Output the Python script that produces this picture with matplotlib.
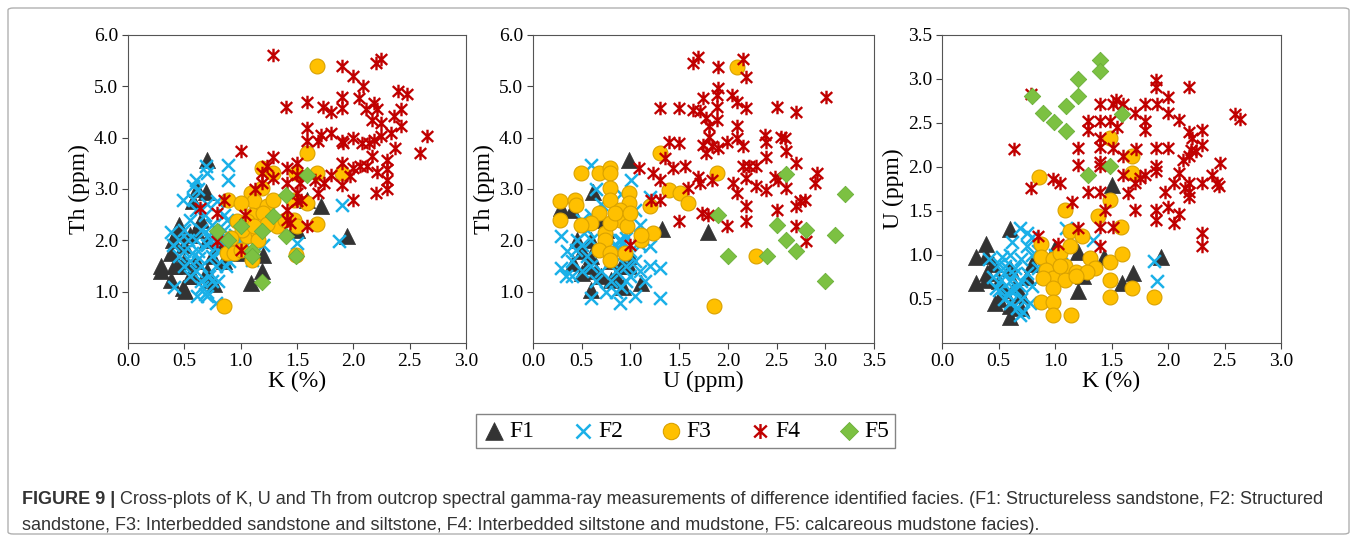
import numpy as np
import matplotlib
matplotlib.use("Agg")
import matplotlib.pyplot as plt
from matplotlib.path import Path
from matplotlib.patches import FancyBboxPatch
from matplotlib.text import Annotation

# ── data (x, y pairs) ─────────────────────────────────────────────────────────
# panel a: K (%) vs Th (ppm)
f1_k_th = [(0.70, 3.57), (0.61, 2.99), (0.69, 2.95), (0.58, 2.76), (0.29, 1.49), (0.29, 1.40),
           (0.38, 1.75), (0.41, 1.49), (0.49, 1.07), (0.51, 1.01), (0.38, 1.23), (0.43, 2.14),
           (0.58, 1.30), (0.73, 1.23), (0.76, 1.14), (1.20, 1.72), (1.19, 1.40), (1.09, 1.17),
           (1.71, 2.66), (1.94, 2.08), (1.50, 2.21), (1.47, 2.24), (1.59, 2.79), (1.00, 1.75),
           (0.40, 2.00), (0.45, 2.30), (0.50, 1.90), (0.55, 2.10), (0.50, 1.60), (0.60, 1.60),
           (0.65, 2.40), (0.70, 2.00), (0.75, 1.70), (0.80, 1.90), (0.45, 1.50), (0.55, 1.30),
           (0.60, 2.20), (0.70, 1.40), (0.85, 1.60), (0.90, 1.80)]
f2_k_th = [(0.89, 3.47), (0.89, 3.18), (0.70, 3.31), (0.69, 3.44), (0.60, 3.18), (0.58, 3.05),
           (0.49, 2.79), (0.79, 2.76), (1.90, 2.69), (1.87, 1.98), (1.50, 1.95), (1.10, 1.62),
           (0.38, 2.17), (0.41, 1.10), (0.61, 0.91), (0.70, 0.91), (0.78, 0.78),
           (0.45, 2.00), (0.50, 2.20), (0.50, 1.80), (0.55, 2.40), (0.55, 1.60), (0.60, 2.60),
           (0.60, 2.00), (0.60, 1.40), (0.62, 1.80), (0.65, 2.20), (0.65, 1.50), (0.65, 1.20),
           (0.68, 2.50), (0.70, 1.90), (0.70, 1.00), (0.72, 1.30), (0.72, 2.10), (0.75, 1.70),
           (0.75, 2.30), (0.78, 1.50), (0.80, 2.00), (0.80, 1.20), (0.82, 1.80), (0.85, 2.20),
           (0.90, 1.60), (0.55, 1.30), (0.50, 1.50), (0.45, 1.70), (0.40, 1.90), (0.58, 2.80),
           (0.62, 3.00), (0.66, 1.10), (0.70, 2.70), (0.75, 1.20), (0.68, 0.95), (0.53, 2.00),
           (0.57, 1.75), (0.63, 1.65), (0.73, 2.00), (0.77, 1.85), (0.87, 1.50), (0.92, 1.90),
           (0.95, 2.10), (1.00, 2.00), (1.05, 1.90), (0.85, 2.50), (0.88, 2.40), (1.20, 1.90),
           (1.15, 2.10)]
f3_k_th = [(1.68, 5.39), (1.59, 3.70), (1.68, 3.31), (1.90, 3.31), (1.49, 3.31), (1.19, 3.41),
           (1.29, 3.31), (1.19, 3.02), (1.09, 2.92), (1.12, 2.76), (0.89, 2.79), (1.00, 2.73),
           (1.23, 2.66), (1.29, 2.79), (1.10, 2.50), (0.97, 2.37), (1.06, 2.37), (1.20, 2.53),
           (1.32, 2.27), (1.39, 2.40), (1.47, 2.40), (1.50, 2.27), (1.59, 2.73), (1.47, 2.79),
           (1.68, 2.31), (1.06, 2.08), (1.15, 2.14), (1.01, 2.21), (1.15, 2.00), (0.91, 2.04),
           (0.88, 1.75), (0.94, 1.75), (1.10, 1.62), (1.00, 1.82), (1.49, 1.72), (0.85, 0.73),
           (1.23, 2.31), (1.12, 2.27)]
f4_k_th = [(1.29, 5.60), (1.90, 5.40), (2.20, 5.45), (2.25, 5.53), (2.00, 5.20), (2.09, 5.00),
           (2.40, 4.90), (2.48, 4.85), (1.40, 4.60), (1.59, 4.70), (1.73, 4.60), (1.80, 4.50),
           (1.90, 4.80), (1.90, 4.58), (2.05, 4.77), (2.11, 4.55), (2.18, 4.68), (2.21, 4.55),
           (2.42, 4.55), (2.42, 4.22), (2.36, 4.42), (1.59, 4.19), (1.59, 3.93), (1.69, 3.93),
           (1.71, 4.06), (1.80, 4.09), (1.90, 3.93), (1.91, 3.90), (2.00, 4.00), (2.08, 3.90),
           (2.14, 3.90), (2.18, 3.96), (2.25, 4.03), (2.17, 4.35), (2.25, 4.29), (2.33, 4.09),
           (2.37, 3.80), (2.59, 3.70), (2.65, 4.03), (1.90, 3.50), (2.00, 3.41), (2.06, 3.44),
           (2.12, 3.44), (2.17, 3.64), (2.21, 3.34), (2.30, 3.57), (2.30, 3.38), (2.30, 3.18),
           (2.30, 2.99), (2.20, 2.92), (2.00, 2.79), (1.97, 3.25), (1.90, 3.08), (1.80, 3.28),
           (1.74, 3.12), (1.29, 3.62), (1.00, 3.73), (1.19, 3.31), (1.19, 3.12), (1.29, 3.21),
           (1.41, 3.41), (1.41, 3.12), (1.50, 3.51), (1.50, 3.28), (1.53, 3.12), (1.50, 2.92),
           (1.50, 2.76), (1.54, 2.79), (1.41, 2.60), (1.41, 2.40), (1.44, 2.34), (1.59, 2.27),
           (1.69, 2.92), (1.66, 3.18), (1.13, 2.99), (1.04, 2.50), (0.85, 2.79), (0.64, 2.63),
           (0.79, 2.53), (0.79, 1.98), (1.00, 1.82), (1.23, 3.44)]
f5_k_th = [(1.59, 3.28), (1.40, 2.89), (1.29, 2.47), (1.00, 2.27), (1.19, 2.18), (0.79, 2.19),
           (0.89, 2.01), (1.40, 2.09), (1.10, 1.79), (1.10, 1.69), (1.49, 1.69), (1.19, 1.18)]

# panel b: U (ppm) vs Th (ppm)
f1_u_th = [(0.99, 3.57), (0.29, 2.63), (0.62, 2.95), (1.32, 2.22), (1.80, 2.17), (1.11, 1.17),
           (0.60, 1.04), (0.50, 1.36), (0.41, 1.56), (0.80, 1.23), (0.92, 1.10), (0.99, 1.49),
           (0.50, 1.80), (0.55, 1.50), (0.60, 2.00), (0.65, 1.40), (0.70, 1.30), (0.75, 2.20),
           (0.80, 1.60), (0.85, 1.30), (0.90, 1.50), (1.00, 1.70), (0.45, 2.00), (0.60, 1.70),
           (0.70, 2.40), (0.95, 2.60), (0.40, 2.60)]
f2_u_th = [(0.60, 3.47), (0.29, 1.47), (0.34, 1.31), (0.29, 2.08), (0.60, 0.88), (0.89, 0.78),
           (1.05, 0.91), (1.30, 0.88), (1.30, 1.47), (1.20, 1.50), (1.20, 1.88), (1.20, 2.85),
           (1.01, 3.18), (0.44, 1.82),
           (0.40, 1.60), (0.50, 1.90), (0.50, 1.40), (0.55, 1.70), (0.60, 2.00), (0.60, 1.50),
           (0.65, 1.20), (0.70, 1.80), (0.70, 1.40), (0.75, 2.10), (0.80, 1.60), (0.80, 1.20),
           (0.85, 1.90), (0.85, 1.40), (0.90, 2.00), (0.90, 1.70), (0.90, 1.10), (0.95, 1.50),
           (1.00, 1.80), (1.00, 1.30), (1.05, 1.60), (1.10, 1.40), (1.10, 1.90), (1.15, 1.20),
           (0.60, 2.50), (0.50, 2.40), (0.70, 2.70), (0.65, 3.00), (0.55, 2.20), (0.45, 2.00),
           (0.75, 1.00), (0.85, 1.00), (0.95, 1.20), (1.10, 2.30), (1.05, 2.60), (0.90, 2.90),
           (0.88, 2.00), (0.92, 1.95), (0.86, 1.85), (0.95, 2.05), (0.40, 1.30), (0.35, 1.80)]
f3_u_th = [(2.09, 5.38), (1.30, 3.70), (1.89, 3.31), (1.40, 2.98), (1.51, 2.92), (1.59, 2.72),
           (1.20, 2.66), (1.23, 2.14), (1.11, 2.01), (1.11, 2.11), (2.29, 1.70), (1.86, 0.73),
           (0.28, 2.76), (0.28, 2.40), (0.43, 2.79), (0.44, 2.69), (0.49, 3.31), (0.68, 3.31),
           (0.79, 3.41), (0.79, 3.31), (0.79, 3.02), (0.79, 2.79), (0.99, 2.92), (0.99, 2.72),
           (0.89, 2.59), (0.68, 2.53), (0.89, 2.40), (0.96, 2.27), (0.60, 2.33), (0.49, 2.30),
           (0.74, 2.14), (0.74, 2.01), (0.79, 2.33), (0.68, 1.82), (0.79, 1.75), (0.79, 1.62),
           (0.94, 1.75), (0.84, 2.53), (1.00, 2.53)]
f4_u_th = [(1.69, 5.58), (1.64, 5.45), (1.90, 5.38), (2.15, 5.53), (2.19, 5.19), (1.90, 4.96),
           (1.89, 4.83), (2.04, 4.83), (2.09, 4.70), (2.19, 4.57), (1.74, 4.78), (1.30, 4.57),
           (1.50, 4.57), (1.64, 4.54), (1.71, 4.51), (1.78, 4.38), (1.81, 4.22), (1.89, 4.60),
           (1.89, 4.35), (1.81, 4.02), (1.74, 3.86), (1.84, 3.83), (1.78, 3.70), (1.90, 3.80),
           (1.99, 3.92), (2.09, 4.22), (2.09, 4.00), (2.38, 4.05), (2.39, 3.92), (2.55, 4.02),
           (2.59, 3.99), (2.50, 4.60), (2.70, 4.50), (3.01, 4.80), (1.40, 3.92), (1.50, 3.89),
           (1.09, 3.41), (1.35, 3.61), (1.44, 3.41), (1.56, 3.44), (1.23, 3.31), (1.30, 3.18),
           (1.21, 2.79), (1.30, 2.79), (1.59, 3.02), (1.69, 3.24), (1.71, 3.11), (1.84, 3.18),
           (1.50, 2.37), (1.73, 2.53), (1.80, 2.50), (1.99, 2.27), (2.05, 3.11), (2.09, 2.92),
           (2.19, 2.66), (2.19, 2.37), (2.16, 3.44), (2.22, 3.44), (2.19, 3.21), (2.29, 3.05),
           (2.39, 2.98), (2.39, 3.63), (2.48, 3.24), (2.51, 3.18), (2.50, 2.59), (2.60, 3.02),
           (2.60, 3.73), (2.70, 3.50), (2.70, 2.66), (2.74, 2.76), (2.79, 2.79), (2.70, 2.27),
           (2.80, 1.98), (2.91, 3.31), (2.89, 3.11), (1.00, 1.91), (2.29, 3.44), (2.16, 3.83)]
f5_u_th = [(1.90, 2.50), (2.00, 1.70), (2.40, 1.70), (2.50, 2.30), (2.60, 2.00), (2.60, 3.30),
           (2.70, 1.80), (2.80, 2.20), (3.10, 2.10), (3.20, 2.90), (3.00, 1.20)]

# panel c: K (%) vs U (ppm)
f1_k_u = [(0.60, 1.29), (0.39, 1.12), (0.30, 0.98), (0.39, 0.99), (0.30, 0.68), (0.39, 0.72),
          (0.47, 0.45), (0.60, 0.30), (0.60, 0.42), (1.50, 1.80), (1.00, 1.08), (1.20, 1.03),
          (1.43, 0.98), (1.69, 0.79), (1.59, 0.68), (1.20, 0.59), (1.94, 0.98), (1.25, 0.76),
          (0.45, 0.90), (0.50, 0.70), (0.55, 0.60), (0.60, 0.85), (0.65, 0.65), (0.70, 0.55),
          (0.75, 0.75), (0.80, 0.90), (0.40, 0.80), (0.50, 0.50), (0.70, 0.40)]
f2_k_u = [(0.69, 1.31), (1.10, 1.31), (1.34, 1.17), (1.88, 0.93), (1.90, 0.70), (0.69, 0.32),
          (0.45, 0.75), (0.50, 0.90), (0.50, 0.60), (0.55, 0.80), (0.55, 0.50), (0.60, 1.00),
          (0.60, 0.70), (0.60, 0.45), (0.65, 0.85), (0.65, 0.60), (0.70, 0.95), (0.70, 0.70),
          (0.70, 0.50), (0.75, 0.80), (0.75, 1.10), (0.80, 0.65), (0.80, 1.00), (0.85, 0.85),
          (0.90, 0.75), (0.85, 1.05), (0.62, 1.15), (0.58, 0.55), (0.52, 0.72), (0.48, 0.62),
          (0.66, 0.40), (0.72, 0.35), (0.78, 0.45), (0.80, 1.20), (0.75, 1.25), (0.90, 0.95),
          (0.95, 0.80), (1.00, 1.00), (1.05, 0.90), (0.42, 0.95), (0.53, 0.98), (0.64, 0.78),
          (0.68, 0.66), (0.56, 0.88), (0.60, 0.60)]
f3_k_u = [(0.86, 1.89), (1.09, 1.51), (1.49, 2.33), (1.68, 2.12), (1.68, 1.93), (1.49, 1.63),
          (1.38, 1.44), (1.58, 1.32), (1.13, 1.27), (1.24, 1.22), (0.88, 1.12), (0.88, 0.98),
          (0.98, 0.95), (1.04, 1.02), (1.13, 1.10), (1.09, 0.87), (0.92, 0.83), (1.19, 0.81),
          (1.31, 0.96), (1.35, 0.85), (1.28, 0.81), (0.98, 0.74), (1.09, 0.72), (1.19, 0.76),
          (0.89, 0.74), (0.98, 0.62), (1.49, 0.92), (1.59, 1.01), (1.49, 0.72), (1.68, 0.62),
          (1.49, 0.52), (1.88, 0.52), (0.88, 0.47), (0.98, 0.47), (0.98, 0.32), (1.14, 0.32),
          (1.04, 0.87)]
f4_k_u = [(0.79, 2.83), (0.64, 2.20), (0.79, 1.76), (0.85, 1.21), (1.03, 1.12), (0.98, 1.86),
          (1.04, 1.82), (1.15, 1.60), (1.20, 2.21), (1.20, 2.02), (1.20, 1.31), (1.29, 2.52),
          (1.29, 2.42), (1.29, 1.71), (1.40, 2.71), (1.40, 2.52), (1.40, 2.33), (1.40, 2.23),
          (1.40, 2.06), (1.40, 2.01), (1.40, 1.71), (1.40, 1.32), (1.40, 1.10), (1.44, 1.51),
          (1.51, 2.71), (1.49, 2.52), (1.51, 2.21), (1.51, 1.32), (1.54, 2.76), (1.55, 2.45),
          (1.60, 2.71), (1.60, 2.12), (1.60, 1.91), (1.65, 1.70), (1.71, 1.51), (1.71, 1.82),
          (1.71, 2.61), (1.72, 2.20), (1.80, 2.71), (1.80, 2.52), (1.80, 2.42), (1.80, 1.91),
          (1.75, 1.87), (1.90, 2.71), (1.89, 2.99), (1.89, 2.91), (1.89, 2.21), (1.89, 2.01),
          (1.89, 1.95), (1.89, 1.51), (1.89, 1.40), (2.00, 2.80), (2.00, 2.21), (2.00, 2.61),
          (2.00, 1.55), (1.97, 1.72), (2.05, 1.36), (2.10, 1.46), (2.10, 2.53), (2.10, 1.93),
          (2.05, 1.82), (2.19, 2.91), (2.19, 2.40), (2.21, 2.33), (2.19, 2.12), (2.13, 2.08),
          (2.19, 1.82), (2.19, 1.72), (2.19, 1.66), (2.15, 1.76), (2.30, 2.42), (2.30, 2.25),
          (2.25, 2.18), (2.30, 1.82), (2.30, 1.25), (2.30, 1.10), (2.39, 1.91), (2.43, 1.82),
          (2.45, 1.78), (2.46, 2.04), (2.59, 2.60), (2.64, 2.55), (2.20, 2.19)]
f5_k_u = [(0.80, 2.81), (0.89, 2.61), (0.99, 2.51), (1.10, 2.41), (1.10, 2.69), (1.20, 2.81),
          (1.20, 3.00), (1.40, 3.21), (1.40, 3.09), (1.59, 2.60), (1.49, 2.01), (1.29, 1.91)]

FACIES = ["F1", "F2", "F3", "F4", "F5"]
CAPTION_1 = ("Cross-plots of K, U and Th from outcrop spectral gamma-ray measurements of "
             "difference identified facies. (F1: Structureless sandstone, F2: Structured")
CAPTION_2 = ("sandstone, F3: Interbedded sandstone and siltstone, F4: Interbedded siltstone "
             "and mudstone, F5: calcareous mudstone facies).")

# ── styles ────────────────────────────────────────────────────────────────────
SERIF = ["Liberation Serif", "DejaVu Serif"]
SANS = ["Liberation Sans", "DejaVu Sans"]

star = Path([(0, -1), (0, 1), (-0.85, -0.8), (0.85, 0.8), (-0.85, 0.8), (0.85, -0.8)],
            [Path.MOVETO, Path.LINETO] * 3)

STYLE = {
    "F1": dict(marker="^", s=135, c="#333333", edgecolors="#333333", linewidths=0.5),
    "F2": dict(marker="x", s=85, c="#1ab0e8", linewidths=1.8),
    "F3": dict(marker="o", s=115, c="#ffc000", edgecolors="#d9a100", linewidths=0.8),
    "F4": dict(marker=star, s=95, c="#c00000", linewidths=1.7),
    "F5": dict(marker="D", s=70, c="#7cc142", edgecolors="#6aae38", linewidths=0.6),
}

plt.rcParams["font.family"] = SERIF

fig = plt.figure(figsize=(13.57, 5.42), dpi=100)

# outer frame
fig.patches.append(FancyBboxPatch((8 / 1357, 8 / 542), 1341 / 1357, 526 / 542,
                                  boxstyle="round,pad=0,rounding_size=0.004",
                                  transform=fig.transFigure, fill=False,
                                  edgecolor="#b0b0b0", lw=1.0))

panels = [
    ([0.0943, 0.3672, 0.2491, 0.5683], [f1_k_th, f2_k_th, f3_k_th, f4_k_th, f5_k_th],
     "K (%)", "Th (ppm)", (0, 3.0), (0, 6.0), np.arange(0, 3.01, 0.5), np.arange(1, 6.01, 1.0)),
    ([0.3928, 0.3672, 0.2513, 0.5683], [f1_u_th, f2_u_th, f3_u_th, f4_u_th, f5_u_th],
     "U (ppm)", "Th (ppm)", (0, 3.5), (0, 6.0), np.arange(0, 3.51, 0.5), np.arange(1, 6.01, 1.0)),
    ([0.6942, 0.3672, 0.2498, 0.5683], [f1_k_u, f2_k_u, f3_k_u, f4_k_u, f5_k_u],
     "K (%)", "U (ppm)", (0, 3.0), (0, 3.5), np.arange(0, 3.01, 0.5), np.arange(0.5, 3.51, 0.5)),
]

handles = []
for i, (rect, series, xl, yl, xlim, ylim, xt, yt) in enumerate(panels):
    ax = fig.add_axes(rect)
    for name, pts in zip(FACIES, series):
        x, y = np.array(pts).T
        h = ax.scatter(x, y, label=name, **STYLE[name])
        if i == 0:
            handles.append(h)
    ax.set_xlim(*xlim)
    ax.set_ylim(*ylim)
    ax.set_xticks(xt)
    ax.set_yticks(yt)
    ax.set_xticklabels([f"{v:.1f}" for v in xt])
    ax.set_yticklabels([f"{v:.1f}" for v in yt])
    ax.tick_params(labelsize=14, length=4, width=0.8, color="#444444", pad=3)
    ax.set_xlabel(xl, fontsize=17, labelpad=1)
    ax.set_ylabel(yl, fontsize=17, labelpad=3)
    for sp in ax.spines.values():
        sp.set_linewidth(0.8)
        sp.set_color("#555555")

leg = fig.legend(handles, FACIES, loc="center", bbox_to_anchor=(685.5 / 1357, 1 - 431 / 542),
                 ncol=5, fontsize=17, frameon=True, fancybox=False, edgecolor="#666666",
                 handlelength=1.0, handletextpad=0.15, columnspacing=1.55, borderpad=0.25,
                 markerscale=1.1)
leg.get_frame().set_linewidth(1.0)

# caption
bold = fig.text(22 / 1357, 1 - 500 / 542, "FIGURE 9 |", fontsize=13, fontweight="bold",
                family=SANS, color="#333333", va="center")
fig.add_artist(Annotation(" " + CAPTION_1, xy=(1, 0.5), xycoords=bold,
                          va="center", ha="left", fontsize=13,
                          family=SANS, color="#333333"))
fig.text(22 / 1357, 1 - 525 / 542, CAPTION_2, fontsize=13, family=SANS,
         color="#333333", va="center")

fig.savefig("out.png", dpi=100)
